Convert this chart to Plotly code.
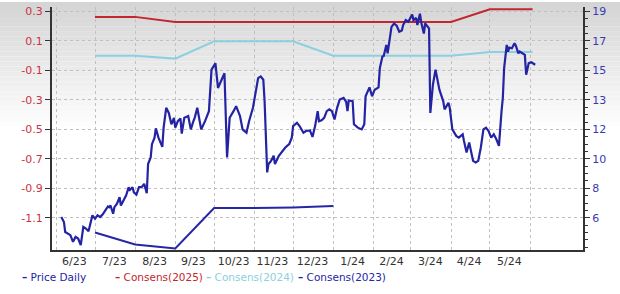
import plotly.graph_objects as go

# ---------------- data ----------------
price_dates = [
    "2023-06-05", "2023-06-07", "2023-06-08", "2023-06-10", "2023-06-12", "2023-06-14", "2023-06-16",
    "2023-06-18", "2023-06-20", "2023-06-22", "2023-06-24", "2023-06-26", "2023-06-28", "2023-06-29",
    "2023-07-01", "2023-07-03", "2023-07-05", "2023-07-07", "2023-07-09", "2023-07-11", "2023-07-12",
    "2023-07-13", "2023-07-15", "2023-07-16", "2023-07-18", "2023-07-20", "2023-07-21", "2023-07-23",
    "2023-07-25", "2023-07-27", "2023-07-28", "2023-07-30", "2023-07-31", "2023-08-02", "2023-08-04",
    "2023-08-06", "2023-08-08", "2023-08-10", "2023-08-11", "2023-08-13", "2023-08-14", "2023-08-16",
    "2023-08-17", "2023-08-19", "2023-08-22", "2023-08-23", "2023-08-25", "2023-08-27", "2023-08-29",
    "2023-08-31", "2023-09-01", "2023-09-03", "2023-09-05", "2023-09-06", "2023-09-08", "2023-09-11",
    "2023-09-13", "2023-09-15", "2023-09-16", "2023-09-18", "2023-09-21", "2023-09-24", "2023-09-27",
    "2023-09-29", "2023-10-01", "2023-10-02", "2023-10-04", "2023-10-06", "2023-10-09", "2023-10-11",
    "2023-10-13", "2023-10-16", "2023-10-18", "2023-10-21", "2023-10-23", "2023-10-26", "2023-10-28",
    "2023-10-31", "2023-11-02", "2023-11-04", "2023-11-06", "2023-11-08", "2023-11-09", "2023-11-11",
    "2023-11-12", "2023-11-14", "2023-11-16", "2023-11-17", "2023-11-20", "2023-11-22", "2023-11-25",
    "2023-11-28", "2023-11-30", "2023-12-01", "2023-12-04", "2023-12-06", "2023-12-09", "2023-12-11",
    "2023-12-14", "2023-12-16", "2023-12-18", "2023-12-20", "2023-12-21", "2023-12-23", "2023-12-25",
    "2023-12-27", "2023-12-29", "2023-12-31", "2024-01-02", "2024-01-04", "2024-01-06", "2024-01-09",
    "2024-01-11", "2024-01-12", "2024-01-13", "2024-01-16", "2024-01-17", "2024-01-20", "2024-01-23",
    "2024-01-25", "2024-01-26", "2024-01-29", "2024-01-31", "2024-02-02", "2024-02-05", "2024-02-06",
    "2024-02-08", "2024-02-09", "2024-02-11", "2024-02-12", "2024-02-13", "2024-02-15", "2024-02-17",
    "2024-02-19", "2024-02-21", "2024-02-23", "2024-02-24", "2024-02-26", "2024-02-28", "2024-03-02",
    "2024-03-03", "2024-03-05", "2024-03-06", "2024-03-08", "2024-03-09", "2024-03-11", "2024-03-12",
    "2024-03-14", "2024-03-15", "2024-03-16", "2024-03-18", "2024-03-20", "2024-03-21", "2024-03-23",
    "2024-03-26", "2024-03-27", "2024-03-30", "2024-03-31", "2024-04-02", "2024-04-05", "2024-04-07",
    "2024-04-10", "2024-04-11", "2024-04-13", "2024-04-15", "2024-04-17", "2024-04-18", "2024-04-20",
    "2024-04-22", "2024-04-24", "2024-04-26", "2024-04-28", "2024-04-30", "2024-05-02", "2024-05-04",
    "2024-05-06", "2024-05-08", "2024-05-10", "2024-05-11", "2024-05-12", "2024-05-14", "2024-05-15",
    "2024-05-16", "2024-05-18", "2024-05-20", "2024-05-21", "2024-05-23", "2024-05-24", "2024-05-26",
    "2024-05-28", "2024-05-29", "2024-05-31", "2024-06-02", "2024-06-03", "2024-06-05",
]
price_values = [
    6.05, 5.74, 5.11, 5.01, 4.91, 4.49, 4.80,
    4.70, 4.28, 5.43, 5.33, 5.16, 5.84, 6.16,
    5.95, 6.16, 6.05, 6.22, 6.47, 6.72, 6.67,
    6.78, 6.26, 6.67, 6.89, 7.30, 6.78, 7.09,
    7.41, 7.93, 7.76, 7.93, 7.61, 7.47, 7.93,
    7.93, 8.14, 7.55, 9.39, 9.80, 10.64, 11.05,
    11.64, 11.05, 10.47, 11.68, 12.93, 12.61, 11.89,
    12.30, 11.68, 12.09, 12.26, 11.30, 12.30, 12.41,
    11.57, 12.09, 12.30, 12.93, 11.57, 12.09, 12.72,
    15.33, 15.64, 15.74, 14.18, 14.60, 15.11, 9.80,
    12.30, 12.72, 13.03, 12.41, 11.57, 11.36, 12.09,
    12.93, 13.97, 14.80, 14.91, 14.70, 13.34, 8.86,
    9.39, 9.59, 9.91, 9.39, 9.91, 10.11, 10.43,
    10.64, 11.05, 11.78, 11.99, 11.78, 11.36, 11.47,
    11.51, 11.10, 11.78, 12.72, 12.09, 12.15, 12.30,
    12.72, 12.83, 12.72, 12.20, 12.93, 13.45, 13.55,
    13.30, 12.72, 13.39, 13.35, 11.89, 11.68, 11.57,
    11.89, 13.66, 14.22, 13.66, 14.07, 14.22, 15.43,
    16.16, 16.20, 16.89, 16.36, 16.93, 18.03, 18.24,
    18.10, 17.72, 17.80, 18.14, 18.45, 18.35, 18.80,
    18.45, 18.59, 18.14, 18.86, 18.30, 17.61, 18.24,
    18.03, 17.93, 12.61, 14.39, 15.33, 14.91, 14.07,
    13.34, 12.83, 13.24, 12.93, 11.57, 11.16, 11.05,
    11.26, 10.84, 10.11, 10.74, 10.01, 9.59, 9.49,
    9.59, 10.43, 11.57, 11.68, 11.47, 11.05, 11.26,
    10.95, 10.53, 12.72, 13.55, 15.43, 16.89, 16.47,
    16.72, 16.68, 16.99, 16.85, 16.36, 16.47, 16.36,
    16.26, 15.01, 15.74, 15.80, 15.74, 15.64,
]

cons_dates = ["2023-07-01", "2023-08-01", "2023-09-01", "2023-10-01", "2023-11-01", "2023-12-01",
              "2024-01-01", "2024-02-01", "2024-03-01", "2024-04-01", "2024-05-01", "2024-06-01",
              "2024-06-03"]
cons_2025 = [0.263, 0.263, 0.229, 0.229, 0.229, 0.229, 0.229, 0.229, 0.229, 0.229, 0.315, 0.315, 0.315]
cons_2024 = [0.0, 0.0, -0.02, 0.097, 0.097, 0.097, 0.0, 0.0, 0.0, 0.0, 0.025, 0.025, 0.025]
cons_2023_dates = ["2023-07-01", "2023-08-01", "2023-09-01", "2023-10-01", "2023-11-01",
                   "2023-12-01", "2024-01-01"]
cons_2023 = [-1.199, -1.28, -1.307, -1.034, -1.034, -1.03, -1.02]

month_starts = ["2023-06-01", "2023-07-01", "2023-08-01", "2023-09-01", "2023-10-01", "2023-11-01",
                "2023-12-01", "2024-01-01", "2024-02-01", "2024-03-01", "2024-04-01", "2024-05-01",
                "2024-06-01"]
month_label_pos = ["2023-06-15", "2023-07-16", "2023-08-16", "2023-09-15", "2023-10-16", "2023-11-15",
                   "2023-12-16", "2024-01-16", "2024-02-15", "2024-03-16", "2024-04-15", "2024-05-16"]
month_labels = ["6/23", "7/23", "8/23", "9/23", "10/23", "11/23", "12/23",
                "1/24", "2/24", "3/24", "4/24", "5/24"]

eps_ticks = [0.3, 0.1, -0.1, -0.3, -0.5, -0.7, -0.9, -1.1]
eps_labels = ["0.3", "0.1", "-0.1", "-0.3", "-0.5", "-0.7", "-0.9", "-1.1"]
price_labels = ["19", "17", "15", "13", "12", "10", "8", "6"]

# ---------------- styling ----------------
C_PRICE = "#2323a3"
C_2025 = "#c4262e"
C_2024 = "#8ccfe0"
C_2023 = "#2626a6"
FONT = "DejaVu Sans"
GRID = "#c0c0c0"
DASH = "dot"

W, H = 620, 294
ML, MR, MT, MB = 52, 37, 5, 44
PW, PH = W - ML - MR, H - MT - MB

eps_range = [-1.318, 0.330]
# right axis is linear and aligned: eps -1.1 -> 6, eps 0.3 -> 19
def eps_to_price(v):
    return 6 + (v + 1.1) * 13 / 1.4
price_range = [eps_to_price(eps_range[0]), eps_to_price(eps_range[1])]
price_tickvals = [eps_to_price(v) for v in eps_ticks]

fig = go.Figure()

fig.add_trace(go.Scatter(x=cons_dates, y=cons_2025, mode="lines", name="Consens(2025)",
                         line=dict(color=C_2025, width=2), yaxis="y", showlegend=False))
fig.add_trace(go.Scatter(x=cons_dates, y=cons_2024, mode="lines", name="Consens(2024)",
                         line=dict(color=C_2024, width=2), yaxis="y", showlegend=False))
fig.add_trace(go.Scatter(x=cons_2023_dates, y=cons_2023, mode="lines", name="Consens(2023)",
                         line=dict(color=C_2023, width=2), yaxis="y", showlegend=False))
fig.add_trace(go.Scatter(x=price_dates, y=price_values, mode="lines", name="Price Daily",
                         line=dict(color=C_PRICE, width=2.2), yaxis="y2", showlegend=False))

# background gradient (top grey fading to white)
shapes = []
def py(pix):
    return (H - MB - pix) / PH
steps = 26
for i in range(steps):
    y0p = i * 5
    y1p = (i + 1) * 5
    g = int(213 + (255 - 213) * (i / (steps - 1)))
    shapes.append(dict(type="rect", xref="paper", yref="paper",
                       x0=-ML / PW, x1=1 + MR / PW, y0=py(y1p), y1=py(y0p),
                       fillcolor=f"rgb({g},{g},{g})", line=dict(width=0), layer="below"))

# legend as annotations
legend_items = [("Price Daily", C_PRICE, 20), ("Consens(2025)", C_2025, 113),
                ("Consens(2024)", C_2024, 204), ("Consens(2023)", C_2023, 296)]
annotations = []
for name, col, px in legend_items:
    annotations.append(dict(xref="paper", yref="paper", x=(px - ML) / PW, y=py(277),
                            xanchor="left", yanchor="middle", showarrow=False,
                            text=f"<b>–</b> {name}",
                            font=dict(family=FONT, size=10.5, color=col)))

fig.update_layout(
    width=W, height=H, autosize=False,
    margin=dict(l=ML, r=MR, t=MT, b=MB, pad=0),
    paper_bgcolor="white", plot_bgcolor="rgba(0,0,0,0)",
    showlegend=False,
    shapes=shapes, annotations=annotations,
    font=dict(family=FONT, size=11, color="#333333"),
    xaxis=dict(
        type="date", range=["2023-05-28 19:00", "2024-07-11 22:00"],
        tickmode="array", tickvals=month_label_pos, ticktext=month_labels,
        ticks="", showgrid=False, zeroline=False,
        showline=True, linewidth=2, linecolor="#333333",
        tickfont=dict(family=FONT, size=11, color="#333333"),
        ticklabelstandoff=0,
        minor=dict(tickmode="array", tickvals=month_starts, showgrid=True,
                   gridcolor=GRID, griddash=DASH, gridwidth=1, ticks=""),
    ),
    yaxis=dict(
        range=eps_range, tickmode="array", tickvals=eps_ticks, ticktext=eps_labels,
        showgrid=True, gridcolor=GRID, griddash=DASH, gridwidth=1,
        zeroline=False, showline=True, linewidth=2, linecolor="#333333",
        ticks="outside", ticklen=5, tickwidth=1, tickcolor="#333333",
        tickfont=dict(family=FONT, size=11, color="#cc3344"),
    ),
    yaxis2=dict(
        overlaying="y", side="right", range=price_range,
        tickmode="array", tickvals=price_tickvals, ticktext=price_labels,
        showgrid=False, zeroline=False, showline=True, linewidth=2, linecolor="#333333",
        ticks="outside", ticklen=5, tickwidth=1, tickcolor="#333333",
        tickfont=dict(family=FONT, size=11, color="#3a3ab0"),
        minor=dict(tickmode="linear", tick0=6, dtick=13 / 28, ticks="outside",
                   ticklen=3, tickcolor="#333333", showgrid=False),
    ),
)

fig.write_html("out.html", config={"displayModeBar": False})
